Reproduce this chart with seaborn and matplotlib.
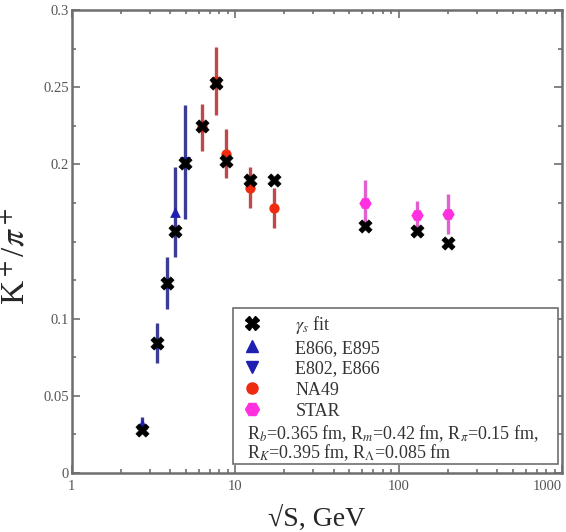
import numpy as np
import pandas as pd
import matplotlib
matplotlib.use("Agg")
import matplotlib.pyplot as plt
import seaborn as sns
from matplotlib.lines import Line2D
from matplotlib.patches import Rectangle

# data
fit_s = [2.7, 3.3, 3.8, 4.3, 4.9, 6.3, 7.6, 8.8, 12.3, 17.3, 62.4, 130, 200]
fit_ratio = [0.028, 0.084, 0.123, 0.157, 0.201, 0.225, 0.253, 0.202, 0.190, 0.190, 0.160, 0.157, 0.149]

e895_s = [2.7, 3.3, 3.8, 4.3]
e895_ratio = [0.032, 0.084, 0.123, 0.169]
e895_err = [0.004, 0.013, 0.017, 0.029]

e802_s = [4.9]
e802_ratio = [0.2015]
e802_err = [0.037]

na49_s = [6.3, 7.6, 8.8, 12.3, 17.3]
na49_ratio = [0.224, 0.254, 0.207, 0.185, 0.172]
na49_err = [0.015, 0.022, 0.016, 0.013, 0.013]

star_s = [62.4, 130, 200]
star_ratio = [0.175, 0.167, 0.168]
star_err = [0.015, 0.009, 0.013]

sns.set_style("ticks")
plt.rcParams["font.family"] = ["Liberation Serif", "DejaVu Serif"]
plt.rcParams["mathtext.fontset"] = "stix"

fig = plt.figure(figsize=(5.66, 5.32), dpi=100)
ax = fig.add_axes([0.127, 0.111, 0.866, 0.870])

grey = "#6e6e6e"

# error bars
ax.errorbar(e895_s, e895_ratio, yerr=e895_err, fmt="none", ecolor="#3c3c96", elinewidth=2.4, zorder=2)
ax.errorbar(e802_s, e802_ratio, yerr=e802_err, fmt="none", ecolor="#3c3c96", elinewidth=2.4, zorder=2)
ax.errorbar(na49_s, na49_ratio, yerr=na49_err, fmt="none", ecolor="#c04848", elinewidth=2.4, zorder=2)
ax.errorbar(star_s, star_ratio, yerr=star_err, fmt="none", ecolor="#e060d0", elinewidth=2.4, zorder=2)

# markers
sns.scatterplot(x=e895_s, y=e895_ratio, marker="^", color="#2020b0", s=60, linewidth=0, ax=ax, zorder=3)
sns.scatterplot(x=e802_s, y=e802_ratio, marker="v", color="#2020b0", s=60, linewidth=0, ax=ax, zorder=3)
sns.scatterplot(x=na49_s, y=na49_ratio, marker="o", color="#ee2a10", s=55, linewidth=0, ax=ax, zorder=3)
sns.scatterplot(x=star_s, y=star_ratio, marker="H", color="#ff30e0", s=80, linewidth=0, ax=ax, zorder=3)
sns.scatterplot(x=fit_s, y=fit_ratio, marker="X", color="black", s=90, linewidth=0.5,
                edgecolor="black", ax=ax, zorder=4)

ax.set_xscale("log")
ax.set_xlim(1, 1000)
ax.set_ylim(0, 0.3)
ax.set_yticks([0, 0.05, 0.1, 0.2, 0.25, 0.3])
ax.set_yticklabels(["0", "0.05", "0.1", "0.2", "0.25", "0.3"])
ax.set_yticks(np.arange(0, 0.301, 0.025), minor=True)
ax.set_xticks([1, 10, 100, 1000])
ax.set_xticklabels(["1", "10", "100", "1000"])
ax.get_xticklabels()[-1].set_horizontalalignment("right")

for side in ax.spines.values():
    side.set_color(grey)
    side.set_linewidth(1.8)
ax.tick_params(which="both", direction="in", top=True, right=True, color=grey,
               labelcolor="#555555", labelsize=10.5, width=1.2)
ax.tick_params(which="major", length=6)
ax.tick_params(which="minor", length=3)
ax.tick_params(axis="y", pad=2)
ax.tick_params(axis="x", pad=5)

ax.set_ylabel(r"K$^+$/$\pi^+$", fontsize=24)
ax.yaxis.set_label_coords(-0.084, 0.467)
ax.set_xlabel("\u221aS, GeV", fontsize=20, labelpad=9)

# legend box with the radii text
ax.add_patch(Rectangle((0.329, 0.019), 0.663, 0.337, transform=ax.transAxes,
                       facecolor="white", edgecolor=grey, linewidth=1.2, zorder=5))

handles = [
    Line2D([], [], marker="X", color="black", linestyle="none", markersize=10),
    Line2D([], [], marker="^", color="#2020b0", linestyle="none", markersize=9),
    Line2D([], [], marker="v", color="#2020b0", linestyle="none", markersize=9),
    Line2D([], [], marker="o", color="#ee2a10", linestyle="none", markersize=8),
    Line2D([], [], marker="H", color="#ff30e0", linestyle="none", markersize=10),
]
labels = [r"$\gamma_s$ fit", "E866, E895", "E802, E866", "NA49", "STAR"]
leg = ax.legend(handles, labels, loc="upper left", bbox_to_anchor=(0.342, 0.352),
                frameon=False, fontsize=13, handlelength=1.0, handletextpad=1.9,
                labelspacing=0.22, borderpad=0.2, borderaxespad=0)
leg.set_zorder(6)
for t in leg.get_texts():
    t.set_color("#333333")

ax.text(0.357, 0.086, r"R$_b$=0.365 fm, R$_m$=0.42 fm, R$_\pi$=0.15 fm,",
        transform=ax.transAxes, fontsize=13, color="#333333", va="center", zorder=6)
ax.text(0.357, 0.043, r"R$_K$=0.395 fm, R$_\Lambda$=0.085 fm",
        transform=ax.transAxes, fontsize=13, color="#333333", va="center", zorder=6)

plt.savefig("out.png", dpi=100)
plt.close()
